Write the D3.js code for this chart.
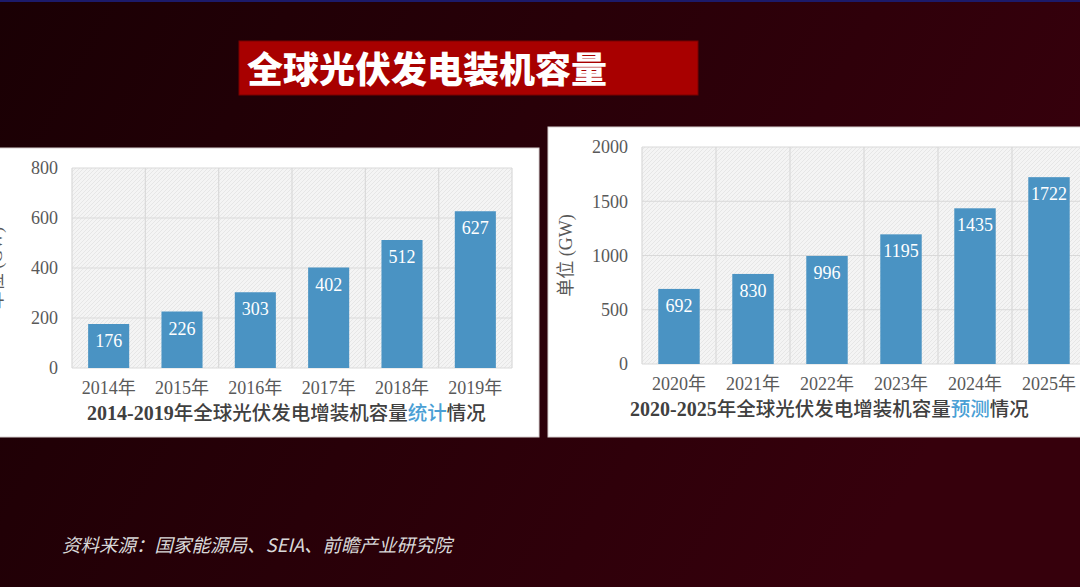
<!DOCTYPE html>
<html lang="zh">
<head>
<meta charset="UTF-8">
<title>全球光伏发电装机容量</title>
<script src="https://d3js.org/d3.v7.min.js"></script>
<style>
  html, body { margin: 0; padding: 0; background: #1c0004; overflow: hidden; }
  svg { display: block; }
</style>
</head>
<body>
<div id="chart"></div>
<script>
// data
const yearsA = ["2014年", "2015年", "2016年", "2017年", "2018年", "2019年"];
const valuesA = [176, 226, 303, 402, 512, 627];
const ticksA = [0, 200, 400, 600, 800];

const yearsB = ["2020年", "2021年", "2022年", "2023年", "2024年", "2025年"];
const valuesB = [692, 830, 996, 1195, 1435, 1722];
const ticksB = [0, 500, 1000, 1500, 2000];

const W = 1080, H = 587;
const serif = "'Liberation Serif', 'Times New Roman', 'Noto Sans CJK SC', serif";
const cjk = "'Noto Sans CJK SC', 'Noto Sans', sans-serif";
const barColor = "#4a93c3";

const svg = d3.select("#chart").append("svg")
    .attr("width", W).attr("height", H);

const defs = svg.append("defs");
const bg = defs.append("linearGradient").attr("id", "bg")
    .attr("x1", "0%").attr("y1", "0%").attr("x2", "100%").attr("y2", "30%");
bg.append("stop").attr("offset", "0%").attr("stop-color", "#1a0004");
bg.append("stop").attr("offset", "100%").attr("stop-color", "#36000c");

// light diagonal hatch used behind the bars
const hatch = defs.append("pattern").attr("id", "hatch")
    .attr("patternUnits", "userSpaceOnUse")
    .attr("width", 4).attr("height", 4);
hatch.append("rect").attr("width", 4).attr("height", 4).attr("fill", "#f4f4f4");
hatch.append("path").attr("d", "M-1,1 l2,-2 M0,4 l4,-4 M3,5 l2,-2")
    .attr("stroke", "#e2e2e2").attr("stroke-width", 0.8);

svg.append("rect").attr("width", W).attr("height", H).attr("fill", "url(#bg)");
svg.append("rect").attr("width", W).attr("height", 2).attr("fill", "#1c1a6a");

// page title
svg.append("rect").attr("x", 239).attr("y", 41).attr("width", 459).attr("height", 54)
    .attr("fill", "#a80000").attr("stroke", "#7a0000").attr("stroke-width", 1);
svg.append("text").attr("x", 247).attr("y", 83)
    .attr("font-family", cjk).attr("font-weight", 900).attr("font-size", 36)
    .attr("fill", "#ffffff").text("全球光伏发电装机容量");

function drawPanel(opt) {
    const g = svg.append("g");
    g.append("rect").attr("x", opt.panel[0]).attr("y", opt.panel[1])
        .attr("width", opt.panel[2]).attr("height", opt.panel[3])
        .attr("fill", "#ffffff").attr("stroke", "#d8d0d0");

    const x = d3.scaleBand().domain(opt.cats)
        .range([opt.left, opt.right]).paddingInner(0).paddingOuter(0);
    const y = d3.scaleLinear().domain([0, opt.max]).range([opt.bottom, opt.top]);

    g.append("rect").attr("x", opt.left).attr("y", opt.top)
        .attr("width", opt.right - opt.left).attr("height", opt.bottom - opt.top)
        .attr("fill", "url(#hatch)");

    // grid
    g.selectAll(".hg").data(opt.ticks).enter().append("line")
        .attr("x1", opt.left).attr("x2", opt.right)
        .attr("y1", d => y(d)).attr("y2", d => y(d))
        .attr("stroke", "#d9d9d9").attr("stroke-width", 1.2);
    const edges = opt.cats.map(c => x(c)).concat([opt.right]);
    g.selectAll(".vg").data(edges).enter().append("line")
        .attr("x1", d => d).attr("x2", d => d)
        .attr("y1", opt.top).attr("y2", opt.bottom)
        .attr("stroke", "#d9d9d9").attr("stroke-width", 1.2);

    // bars
    const bw = x.bandwidth() * 0.56;
    g.selectAll(".bar").data(opt.vals).enter().append("rect")
        .attr("x", (d, i) => x(opt.cats[i]) + (x.bandwidth() - bw) / 2)
        .attr("y", d => y(d))
        .attr("width", bw)
        .attr("height", d => opt.bottom - y(d))
        .attr("fill", barColor);
    g.selectAll(".val").data(opt.vals).enter().append("text")
        .attr("x", (d, i) => x(opt.cats[i]) + x.bandwidth() / 2)
        .attr("y", d => y(d) + 23)
        .attr("text-anchor", "middle")
        .attr("font-family", serif).attr("font-size", 18)
        .attr("fill", "#ffffff").text(d => d);

    // axes (text only, lines hidden)
    const ya = g.append("g").attr("transform", `translate(${opt.left - 14},0)`)
        .call(d3.axisLeft(y).tickValues(opt.ticks).tickFormat(d3.format("d"))
            .tickSize(0).tickPadding(0));
    ya.select(".domain").remove();
    ya.selectAll("text").attr("font-family", serif).attr("font-size", 18)
        .attr("fill", "#595959");

    const xa = g.append("g").attr("transform", `translate(0,${opt.bottom + 11})`)
        .call(d3.axisBottom(x).tickSize(0).tickPadding(0));
    xa.select(".domain").remove();
    xa.selectAll("text").attr("font-family", serif).attr("font-size", 18)
        .attr("fill", "#595959").attr("dy", "0.85em");

    g.append("text")
        .attr("transform", `translate(${opt.left - 70},${(opt.top + opt.bottom) / 2}) rotate(-90)`)
        .attr("text-anchor", "middle")
        .attr("font-family", serif).attr("font-size", 18).attr("fill", "#595959")
        .text("单位 (GW)");

    const t = g.append("text").attr("x", opt.titleX).attr("y", opt.bottom + 52)
        .attr("font-family", serif).attr("font-size", 20).attr("font-weight", "bold")
        .attr("fill", "#404040");
    t.append("tspan").text(opt.title[0]);
    t.append("tspan").attr("font-weight", 500).attr("font-family", cjk)
        .attr("font-size", 19.5).text(opt.title[1]);
    t.append("tspan").attr("font-weight", 500).attr("font-family", cjk)
        .attr("font-size", 19.5).attr("fill", "#4a9fd5").text(opt.title[2]);
    t.append("tspan").attr("font-weight", 500).attr("font-family", cjk)
        .attr("font-size", 19.5).text(opt.title[3]);
}

drawPanel({
    panel: [-2, 148, 541, 289],
    cats: yearsA, vals: valuesA, ticks: ticksA, max: 800,
    left: 72, right: 512, top: 168, bottom: 368,
    titleX: 87,
    title: ["2014-2019", "年全球光伏发电增装机容量", "统计", "情况"]
});

drawPanel({
    panel: [548, 127, 540, 310],
    cats: yearsB, vals: valuesB, ticks: ticksB, max: 2000,
    left: 642, right: 1086, top: 147, bottom: 364,
    titleX: 630,
    title: ["2020-2025", "年全球光伏发电增装机容量", "预测", "情况"]
});

svg.append("text").attr("x", 62).attr("y", 552)
    .attr("font-family", cjk).attr("font-style", "italic").attr("font-size", 18.5)
    .attr("fill", "#d9d9d9")
    .text("资料来源：国家能源局、SEIA、前瞻产业研究院");
</script>
</body>
</html>
